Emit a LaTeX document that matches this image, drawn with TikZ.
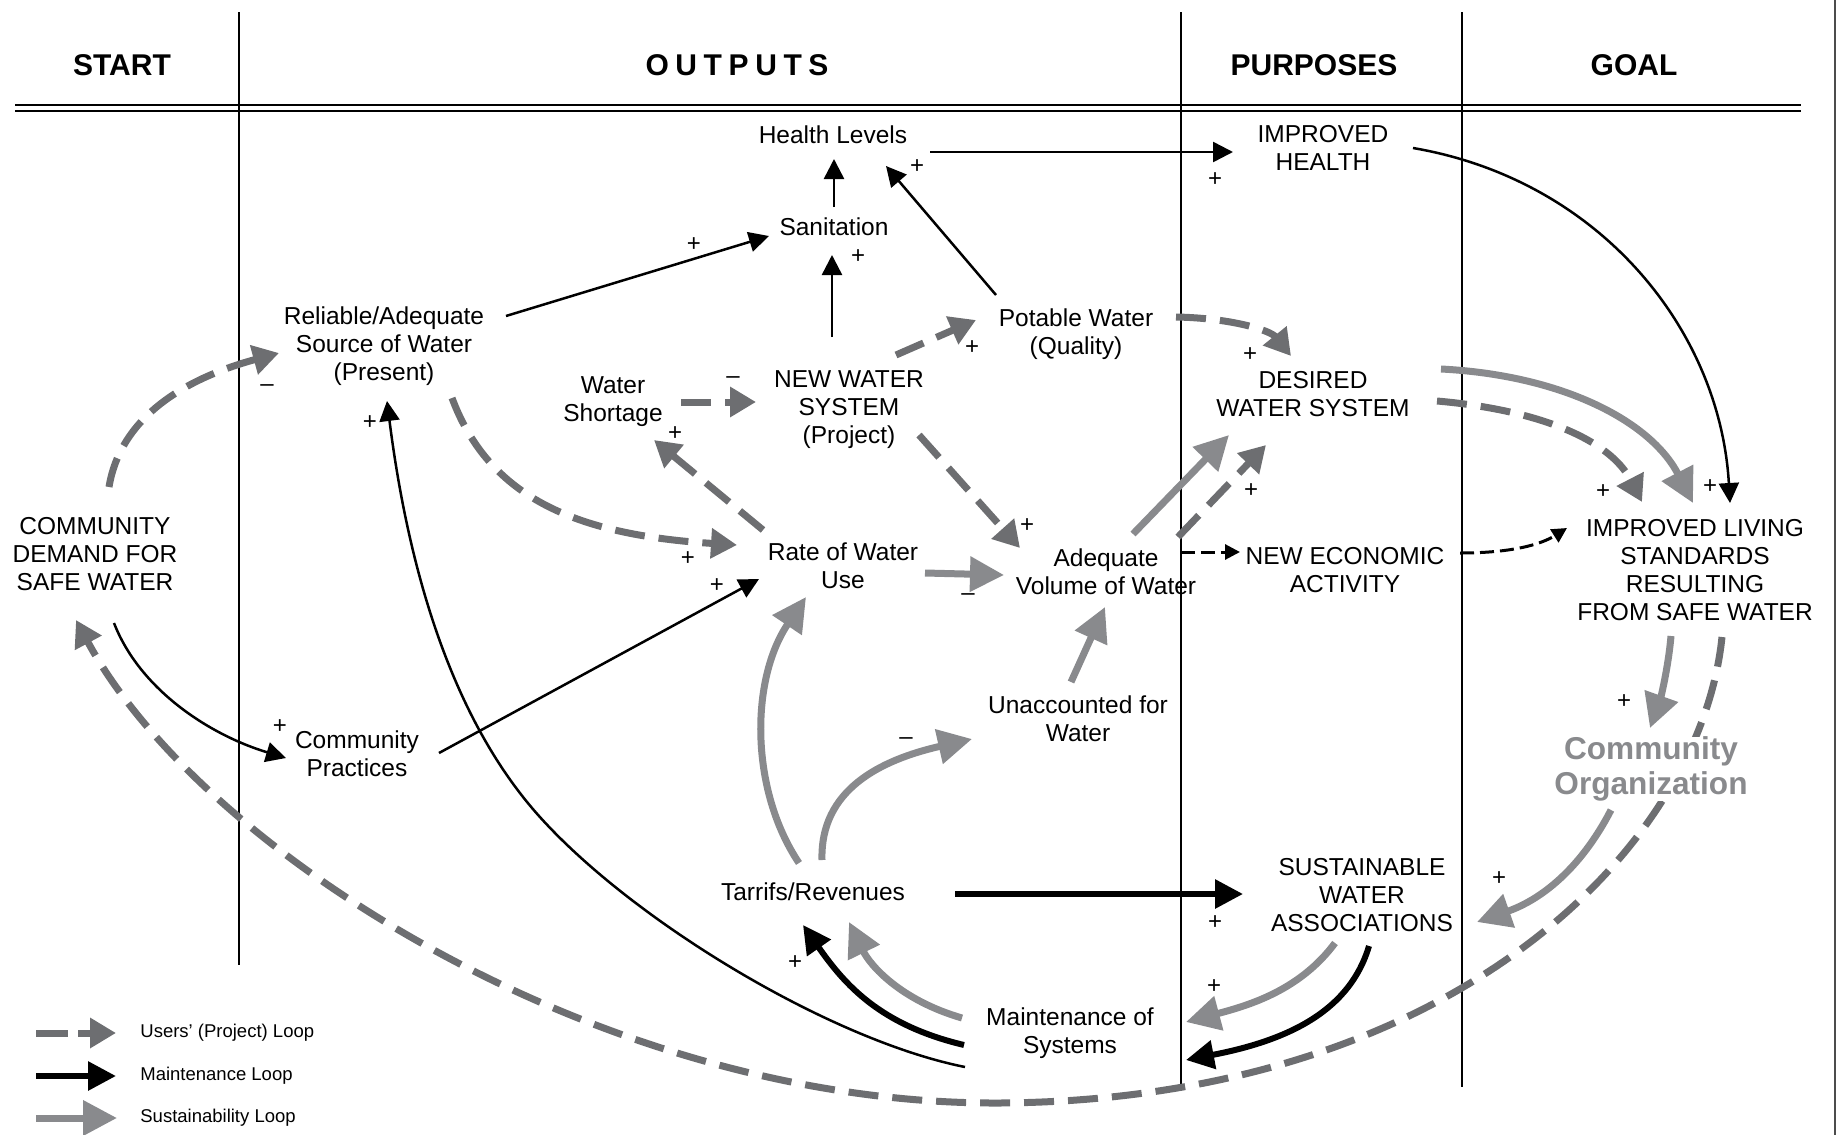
\documentclass[tikz,border=0pt]{standalone}
\usepackage{fontspec}
\setmainfont{Liberation Sans}
\usepackage{tikz}
\usetikzlibrary{arrows.meta, calc}
\usepackage{xcolor}
\definecolor{usrgray}{HTML}{6D6E71}
\definecolor{susgray}{HTML}{898A8D}

\begin{document}
\begin{tikzpicture}[x=0.5pt, y=-0.5pt,
    var/.style={align=center, inner sep=0pt, font=\fontsize{12.25}{14}\selectfont},
    hdr/.style={inner sep=0pt, font=\fontsize{15}{18}\selectfont\bfseries},
    sgn/.style={inner sep=0pt, font=\fontsize{12}{14}\selectfont},
    lgd/.style={anchor=west, inner sep=0pt, font=\fontsize{9.25}{11}\selectfont},
    lnk/.style={line width=1.25pt, -{Triangle[length=10pt, width=10pt]}},
    elnk/.style={line width=1.5pt, dash pattern=on 7pt off 3pt, -{Triangle[length=7.5pt, width=7.5pt]}},
    mnt/.style={line width=3pt, -{Triangle[length=14pt, width=14pt]}},
    sus/.style={susgray, line width=3.5pt, -{Triangle[length=17pt, width=17pt]}},
    usr/.style={usrgray, line width=3.5pt, dash pattern=on 15pt off 7pt, -{Triangle[length=13pt, width=14.5pt]}}]
    \useasboundingbox (0,0) rectangle (1837,1135);

    % frame of the table
    \draw[line width=0.7pt] (239,12) -- (239,965);
    \draw[line width=0.7pt] (1181,12) -- (1181,1085);
    \draw[line width=0.7pt] (1462,12) -- (1462,1087);
    \draw[line width=1.2pt] (15,105) -- (1801,105);
    \draw[line width=1.2pt] (15,111) -- (1801,111);
    \draw[black!70, line width=1.2pt] (1835,0) -- (1835,1135);
    \node[hdr] (hstart) at (122,65) {START};
    \node[hdr] (houts) at (737,65) {\addfontfeature{LetterSpace=22}OUTPUTS};
    \node[hdr] (hpurp) at (1314,65) {PURPOSES};
    \node[hdr] (hgoal) at (1634,65) {GOAL};

    % variables
    \node[var] (hl) at (833,135) {Health Levels};
    \node[var] (ih) at (1323,148) {IMPROVED\\HEALTH};
    \node[var] (san) at (834,227) {Sanitation};
    \node[var] (rel) at (384,346) {Reliable/Adequate\\Source of Water\\(Present)};
    \node[var] (ws) at (613,402) {Water\\Shortage};
    \node[var] (nws) at (849,410) {NEW WATER\\SYSTEM\\(Project)};
    \node[var] (pot) at (1076,334) {Potable Water\\(Quality)};
    \node[var] (dws) at (1313,394) {DESIRED\\WATER SYSTEM};
    \node[var] (rate) at (843,566) {Rate of Water\\Use};
    \node[var] (adq) at (1106,572) {Adequate\\Volume of Water};
    \node[var] (nea) at (1345,570) {NEW ECONOMIC\\ACTIVITY};
    \node[var] (ils) at (1695,570) {IMPROVED LIVING\\STANDARDS\\RESULTING\\FROM SAFE WATER};
    \node[var] (cd) at (95,554) {COMMUNITY\\DEMAND FOR\\SAFE WATER};
    \node[var] (cp) at (357,754) {Community\\Practices};
    \node[var] (unw) at (1078,719) {Unaccounted for\\Water};
    \node[var] (tar) at (813,892) {Tarrifs/Revenues};
    \node[var] (swa) at (1362,895) {SUSTAINABLE\\WATER\\ASSOCIATIONS};
    \node[var] (mos) at (1070,1033) {Maintenance of\\Systems};

    % users' loop, long way back
    \draw[usr] ($(ils)+(27,67)$) .. controls (1700,850) and (1450,1100) .. (1000,1103)
        .. controls (600,1105) and (200,850) .. ($(cd)+(-19,66)$);
    \node[var, fill=white, font=\fontsize{15.8}{17.5}\selectfont\bfseries, text=susgray] (co) at (1651,769) {Community\\Organization};

    % black links
    \draw[lnk] ($(hl)+(97,17)$) -- ($(ih)+(-90,4)$);
    \draw[lnk] ($(san)+(0,-20)$) -- ($(hl)+(1,24)$);
    \draw[lnk] ($(nws)+(-17,-73)$) -- ($(san)+(-2,28)$);
    \draw[lnk] ($(rel)+(122,-30)$) -- ($(san)+(-65,9)$);
    \draw[lnk] ($(pot)+(-80,-39)$) -- ($(hl)+(53,31)$);
    \draw[lnk] ($(ih)+(90,0)$) .. controls (1600,180) and (1720,330) .. ($(ils)+(35,-67)$);
    \draw[lnk] ($(cd)+(19,69)$) .. controls (140,690) and (210,735) .. ($(cp)+(-71,4)$);
    \draw[lnk] ($(cp)+(82,-1)$) -- ($(rate)+(-84,13)$);
    \draw[lnk] ($(mos)+(-105,34)$) .. controls (830,1040) and (633,921) .. (539,816)
        .. controls (445,711) and (406,551) .. ($(rel)+(3,55)$);
    \draw[elnk] ($(adq)+(75,-20)$) -- ($(nea)+(-105,-18)$);
    \draw[elnk] ($(nea)+(115,-17)$) .. controls (1510,553) and (1540,545) .. ($(ils)+(-128,-42)$);

    % maintenance loop
    \draw[mnt] ($(tar)+(142,2)$) -- ($(swa)+(-119,-1)$);
    \draw[mnt] ($(mos)+(-106,12)$) .. controls (880,1025) and (845,985) .. ($(tar)+(-10,33)$);
    \draw[mnt] ($(swa)+(7,51)$) .. controls (1350,1010) and (1290,1040) .. ($(mos)+(116,27)$);

    % sustainability loop
    \draw[sus] ($(rate)+(82,7)$) -- ($(adq)+(-102,3)$);
    \draw[sus] ($(unw)+(-7,-37)$) -- ($(adq)+(-1,35)$);
    \draw[sus] ($(adq)+(27,-38)$) -- ($(dws)+(-84,41)$);
    \draw[sus] ($(tar)+(-14,-29)$) .. controls (750,790) and (750,680) .. ($(rate)+(-37,31)$);
    \draw[sus] ($(tar)+(9,-32)$) .. controls (820,790) and (880,760) .. ($(unw)+(-106,20)$);
    \draw[sus] ($(mos)+(-108,-15)$) .. controls (900,1000) and (870,965) .. ($(tar)+(36,30)$);
    \draw[sus] ($(dws)+(128,-25)$) .. controls (1560,375) and (1650,420) .. ($(ils)+(-2,-67)$);
    \draw[sus] ($(ils)+(-24,66)$) .. controls (1668,670) and (1660,700) .. ($(co)+(-1,-41)$);
    \draw[sus] ($(co)+(-40,41)$) .. controls (1580,870) and (1540,900) .. ($(swa)+(115,27)$);
    \draw[sus] ($(swa)+(-27,48)$) .. controls (1300,990) and (1250,1005) .. ($(mos)+(116,-11)$);

    % users' loop
    \draw[usr] ($(cd)+(14,-67)$) .. controls (120,420) and (180,380) .. ($(rel)+(-105,7)$);
    \draw[usr] ($(rel)+(68,52)$) .. controls (490,500) and (580,535) .. ($(rate)+(-106,-21)$);
    \draw[usr] ($(rate)+(-80,-36)$) -- ($(ws)+(41,38)$);
    \draw[usr] ($(ws)+(68,0)$) -- ($(nws)+(-93,-8)$);
    \draw[usr] ($(nws)+(47,-55)$) -- ($(pot)+(-100,-14)$);
    \draw[usr] ($(nws)+(70,25)$) -- ($(adq)+(-86,-24)$);
    \draw[usr] ($(pot)+(100,-17)$) .. controls (1230,318) and (1270,330) .. ($(dws)+(-22,-38)$);
    \draw[usr] ($(adq)+(72,-35)$) -- ($(dws)+(-47,51)$);
    \draw[usr] ($(dws)+(124,7)$) .. controls (1540,410) and (1610,440) .. ($(ils)+(-53,-68)$);

    % signs
    \node[sgn] (s1) at (917,167) {+};
    \node[sgn] (s2) at (1215,180) {+};
    \node[sgn] (s3) at (694,245) {+};
    \node[sgn] (s4) at (858,257) {+};
    \node[sgn] (s5) at (1710,487) {+};
    \node[sgn] (s6) at (280,727) {+};
    \node[sgn] (s7) at (717,586) {+};
    \node[sgn] (s8) at (370,423) {+};
    \node[sgn] (s9) at (1215,923) {+};
    \node[sgn] (s10) at (795,963) {+};
    \node[sgn] (s11) at (968,597) {--};
    \node[sgn] (s12) at (906,741) {--};
    \node[sgn] (s13) at (1624,702) {+};
    \node[sgn] (s14) at (1499,879) {+};
    \node[sgn] (s15) at (1214,987) {+};
    \node[sgn] (s16) at (267,388) {--};
    \node[sgn] (s17) at (688,559) {+};
    \node[sgn] (s18) at (675,434) {+};
    \node[sgn] (s19) at (733,380) {--};
    \node[sgn] (s20) at (972,348) {+};
    \node[sgn] (s21) at (1027,526) {+};
    \node[sgn] (s22) at (1250,355) {+};
    \node[sgn] (s23) at (1251,491) {+};
    \node[sgn] (s24) at (1603,492) {+};

    % legend
    \node[lgd] (lg1) at (140,1033) {Users' (Project) Loop};
    \node[lgd] (lg2) at (140,1076) {Maintenance Loop};
    \node[lgd] (lg3) at (140,1118) {Sustainability Loop};
    \draw[usr, dash pattern=on 16pt off 5pt] ($(lg1.west)+(-104,0)$) -- ($(lg1.west)+(-24,0)$);
    \draw[mnt] ($(lg2.west)+(-104,0)$) -- ($(lg2.west)+(-24,0)$);
    \draw[sus] ($(lg3.west)+(-104,0)$) -- ($(lg3.west)+(-23,0)$);
\end{tikzpicture}
\end{document}
